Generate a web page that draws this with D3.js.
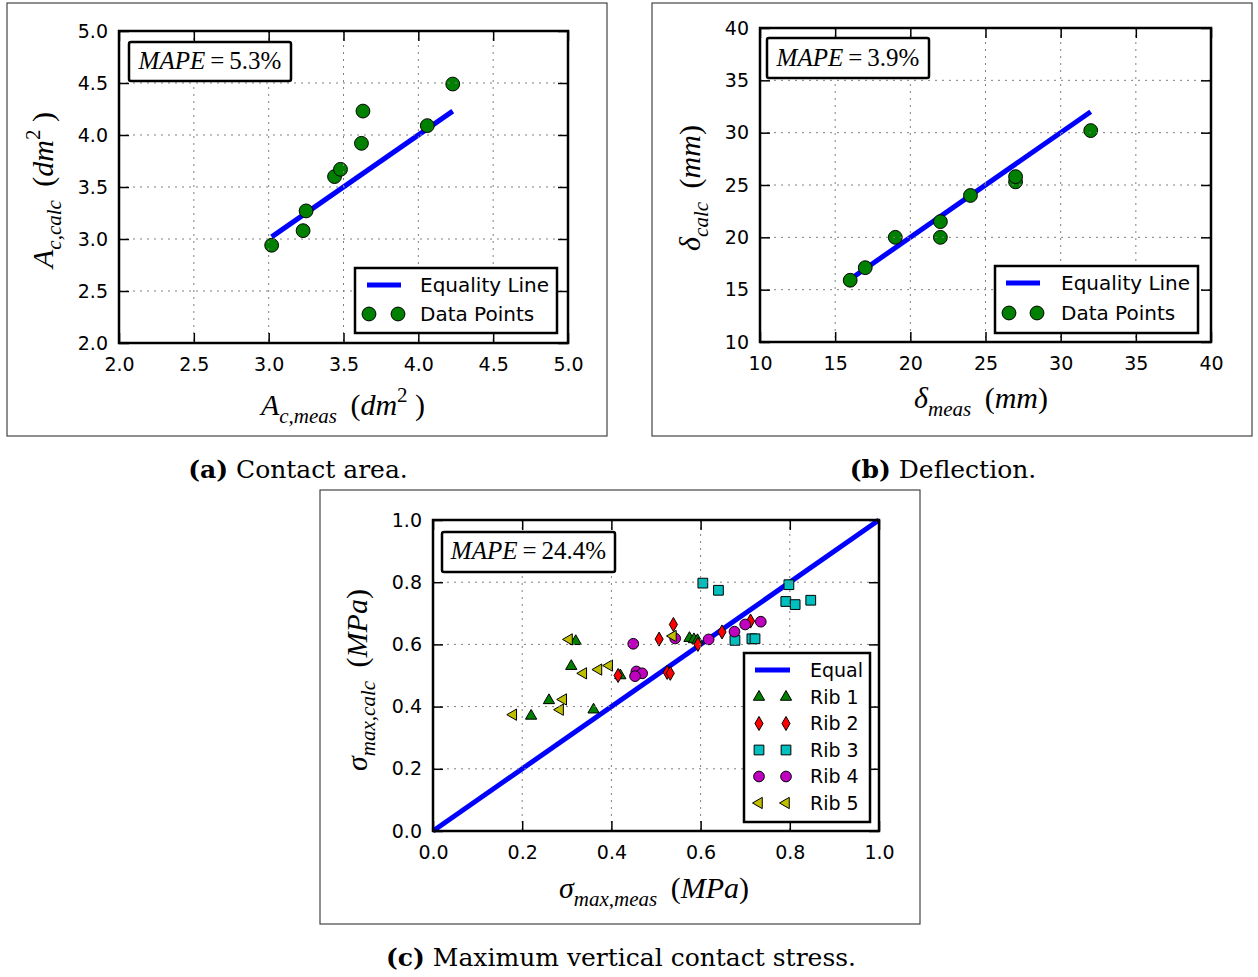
<!DOCTYPE html>
<html>
<head>
<meta charset="utf-8">
<script src="https://cdn.jsdelivr.net/npm/d3@7/dist/d3.min.js"></script>
<style>
  body { margin: 0; background: #fff; }
  svg { display: block; }
  .tick-label { font-family: "DejaVu Sans"; font-size: 19px; fill: #000; }
  .legend-label { font-family: "DejaVu Sans"; font-size: 20px; fill: #000; }
  .math { font-family: "Liberation Serif"; fill: #000; }
  .caption { font-family: "DejaVu Serif"; font-size: 25px; fill: #000; }
</style>
</head>
<body>
<script>
// (a) contact area, dm^2
var areaMeas = [3.02, 3.23, 3.25, 3.44, 3.48, 3.62, 3.63, 4.06, 4.23];
var areaCalc = [2.94, 3.08, 3.27, 3.60, 3.67, 3.92, 4.23, 4.09, 4.49];
var areaTicks = [2.0, 2.5, 3.0, 3.5, 4.0, 4.5, 5.0];

// (b) deflection, mm
var deflMeas = [16, 17, 19, 22, 22, 24, 27, 27, 32];
var deflCalc = [15.9, 17.1, 20.0, 21.5, 20.0, 24.0, 25.3, 25.8, 30.2];
var deflTicks = [10, 15, 20, 25, 30, 35, 40];

// (c) max vertical contact stress, MPa  [meas, calc]
var rib1 = [[0.32, 0.61], [0.31, 0.53], [0.26, 0.42], [0.22, 0.37], [0.36, 0.39],
            [0.42, 0.50], [0.575, 0.62], [0.585, 0.616], [0.593, 0.613]];
var rib2 = [[0.415, 0.50], [0.507, 0.617], [0.539, 0.664], [0.525, 0.51], [0.532, 0.507],
            [0.594, 0.60], [0.648, 0.64], [0.712, 0.675]];
var rib3 = [[0.605, 0.797], [0.64, 0.774], [0.798, 0.792], [0.791, 0.738], [0.812, 0.728],
            [0.847, 0.742], [0.677, 0.613], [0.715, 0.618], [0.722, 0.618]];
var rib4 = [[0.449, 0.602], [0.456, 0.513], [0.469, 0.507], [0.453, 0.498], [0.543, 0.619],
            [0.618, 0.616], [0.676, 0.641], [0.70, 0.664], [0.735, 0.673]];
var rib5 = [[0.18, 0.374], [0.285, 0.39], [0.292, 0.423], [0.305, 0.616], [0.337, 0.507],
            [0.371, 0.519], [0.395, 0.532], [0.538, 0.627]];
var stressTicks = [0.0, 0.2, 0.4, 0.6, 0.8, 1.0];
var ribNames = ['Rib 1', 'Rib 2', 'Rib 3', 'Rib 4', 'Rib 5'];

var w = 1258, h = 977;

var svg = d3.select('body').append('svg')
  .attr('width', w)
  .attr('height', h);

// writes math-like text with sub / superscripts into a <text>
function mathText(t, parts, size) {
  var shift = 0;
  parts.forEach(function(p) {
    var target = p.sub ? size * 0.28 : p.sup ? -size * 0.42 : 0;
    var ts = t.append('tspan').text(p.t)
      .attr('dy', target - shift)
      .style('font-size', (p.sub || p.sup ? size * 0.7 : size) + 'px');
    if (p.it) ts.style('font-style', 'italic');
    if (p.dx) ts.attr('dx', p.dx);
    shift = target;
  });
}

function drawPanel(o) {
  var g = svg.append('g');

  g.append('rect')
    .attr('x', o.frame[0]).attr('y', o.frame[1])
    .attr('width', o.frame[2] - o.frame[0]).attr('height', o.frame[3] - o.frame[1])
    .attr('fill', 'none').attr('stroke', '#444').attr('stroke-width', 1.2);

  var x = d3.scaleLinear().domain(o.domain).range([o.plot[0], o.plot[2]]);
  var y = d3.scaleLinear().domain(o.domain).range([o.plot[3], o.plot[1]]);

  // equality line
  g.append('line')
    .attr('x1', x(o.eq[0])).attr('y1', y(o.eq[0]))
    .attr('x2', x(o.eq[1])).attr('y2', y(o.eq[1]))
    .attr('stroke', '#0000ff').attr('stroke-width', 5);

  o.series.forEach(function(s) {
    g.append('g').selectAll('path')
      .data(s.data)
      .enter().append('path')
      .attr('d', d3.symbol().type(s.shape).size(s.size))
      .attr('transform', function(d) {
        return 'translate(' + x(d[0]) + ',' + y(d[1]) + ')' + (s.rot ? ' rotate(' + s.rot + ')' : '');
      })
      .attr('fill', s.color).attr('stroke', '#000').attr('stroke-width', 1);
  });

  // grid on top, like classic matplotlib
  var grid = g.append('g')
    .attr('stroke', '#808080').attr('stroke-width', 1).attr('stroke-dasharray', '2,5');
  o.ticks.slice(1, -1).forEach(function(t) {
    grid.append('line').attr('x1', x(t)).attr('x2', x(t)).attr('y1', o.plot[1]).attr('y2', o.plot[3]);
    grid.append('line').attr('y1', y(t)).attr('y2', y(t)).attr('x1', o.plot[0]).attr('x2', o.plot[2]);
  });

  // axes with inward ticks on all four sides
  var tl = 10;
  g.append('g').attr('transform', 'translate(0,' + o.plot[3] + ')')
    .call(d3.axisBottom(x).tickValues(o.ticks).tickFormat(o.fmt).tickSizeInner(-tl).tickSizeOuter(0).tickPadding(15));
  g.append('g').attr('transform', 'translate(' + o.plot[0] + ',0)')
    .call(d3.axisLeft(y).tickValues(o.ticks).tickFormat(o.fmt).tickSizeInner(-tl).tickSizeOuter(0).tickPadding(11));
  g.append('g').attr('transform', 'translate(0,' + o.plot[1] + ')')
    .call(d3.axisTop(x).tickValues(o.ticks).tickFormat('').tickSizeInner(-tl).tickSizeOuter(0));
  g.append('g').attr('transform', 'translate(' + o.plot[2] + ',0)')
    .call(d3.axisRight(y).tickValues(o.ticks).tickFormat('').tickSizeInner(-tl).tickSizeOuter(0));
  g.selectAll('.domain').remove();
  g.selectAll('.tick line').attr('stroke', '#000').attr('stroke-width', 1.5);
  g.selectAll('.tick text').attr('class', 'tick-label').attr('font-family', null).attr('font-size', null);

  g.append('rect')
    .attr('x', o.plot[0]).attr('y', o.plot[1])
    .attr('width', o.plot[2] - o.plot[0]).attr('height', o.plot[3] - o.plot[1])
    .attr('fill', 'none').attr('stroke', '#000').attr('stroke-width', 2.5);

  // MAPE box
  var mb = o.mape.box;
  g.append('rect')
    .attr('x', mb[0]).attr('y', mb[1]).attr('width', mb[2] - mb[0]).attr('height', mb[3] - mb[1])
    .attr('rx', 2)
    .attr('fill', '#fff').attr('stroke', '#000').attr('stroke-width', 2.5);
  var mt = g.append('text').attr('class', 'math')
    .attr('x', (mb[0] + mb[2]) / 2).attr('y', o.mape.base)
    .attr('text-anchor', 'middle');
  mathText(mt, [{t: 'MAPE', it: true}, {t: '\u2009=\u2009' + o.mape.value}], 25);

  // legend
  var lg = o.legend;
  g.append('rect')
    .attr('x', lg.box[0]).attr('y', lg.box[1]).attr('width', lg.box[2] - lg.box[0]).attr('height', lg.box[3] - lg.box[1])
    .attr('fill', '#fff').attr('stroke', '#000').attr('stroke-width', 2.5);
  g.append('line')
    .attr('x1', lg.line[0]).attr('x2', lg.line[1]).attr('y1', lg.rows[0]).attr('y2', lg.rows[0])
    .attr('stroke', '#0000ff').attr('stroke-width', 5);
  g.append('text').attr('class', 'legend-label')
    .attr('x', lg.text).attr('y', lg.rows[0]).attr('dy', '0.36em')
    .style('font-size', lg.fs + 'px').text(lg.labels[0]);
  o.series.forEach(function(s, i) {
    var ry = lg.rows[i + 1];
    lg.marks.forEach(function(mx) {
      g.append('path')
        .attr('d', d3.symbol().type(s.shape).size(s.size))
        .attr('transform', 'translate(' + mx + ',' + ry + ')' + (s.rot ? ' rotate(' + s.rot + ')' : ''))
        .attr('fill', s.color).attr('stroke', '#000').attr('stroke-width', 1);
    });
    g.append('text').attr('class', 'legend-label')
      .attr('x', lg.text).attr('y', ry).attr('dy', '0.36em')
      .style('font-size', lg.fs + 'px').text(lg.labels[i + 1]);
  });

  // axis labels
  var xl = g.append('text').attr('class', 'math')
    .attr('x', o.xlab.x).attr('y', o.xlab.y).attr('text-anchor', 'middle');
  mathText(xl, o.xlab.parts, 30);
  var yl = g.append('text').attr('class', 'math')
    .attr('transform', 'translate(' + o.ylab.x + ',' + o.ylab.y + ') rotate(-90)')
    .attr('text-anchor', 'middle');
  mathText(yl, o.ylab.parts, 30);

  // caption
  var cap = svg.append('text').attr('class', 'caption')
    .attr('x', o.cap.x).attr('y', o.cap.y).attr('text-anchor', 'middle');
  cap.append('tspan').attr('font-weight', 'bold').text(o.cap.tag);
  cap.append('tspan').text(' ' + o.cap.text);
}

function unitLabel(sym, sub, unit, sup) {
  var p = [{t: sym, it: true}, {t: sub, it: true, sub: true}, {t: ' (', dx: 6}, {t: unit, it: true}];
  if (sup) p.push({t: sup, sup: true}, {t: ' )'});
  else p.push({t: ')'});
  return p;
}

var f1 = d3.format('.1f');

drawPanel({
  frame: [7, 3, 607, 436],
  plot: [119, 31, 568, 343],
  domain: [2, 5],
  ticks: areaTicks,
  fmt: f1,
  eq: d3.extent(areaMeas),
  series: [{data: areaMeas.map(function(v, i) { return [v, areaCalc[i]]; }),
            shape: d3.symbolCircle, size: 150, color: '#008000'}],
  mape: {box: [129, 42, 291, 81], base: 69, value: '5.3%'},
  legend: {box: [355, 268, 557, 333], line: [367, 401], marks: [369, 398], text: 420,
           rows: [285, 314], labels: ['Equality Line', 'Data Points'], fs: 20},
  xlab: {x: 343, y: 415, parts: unitLabel('A', 'c,meas', 'dm', '2')},
  ylab: {x: 53, y: 190, parts: unitLabel('A', 'c,calc', 'dm', '2')},
  cap: {x: 298, y: 478, tag: '(a)', text: 'Contact area.'}
});

drawPanel({
  frame: [652, 3, 1252, 436],
  plot: [760, 28, 1211, 342],
  domain: [10, 40],
  ticks: deflTicks,
  fmt: d3.format('d'),
  eq: d3.extent(deflMeas),
  series: [{data: deflMeas.map(function(v, i) { return [v, deflCalc[i]]; }),
            shape: d3.symbolCircle, size: 150, color: '#008000'}],
  mape: {box: [767, 38, 929, 78], base: 66, value: '3.9%'},
  legend: {box: [995, 266, 1198, 333], line: [1006, 1040], marks: [1009, 1037], text: 1061,
           rows: [283, 313], labels: ['Equality Line', 'Data Points'], fs: 20},
  xlab: {x: 981, y: 408, parts: unitLabel('\u03b4', 'meas', 'mm')},
  ylab: {x: 700, y: 188, parts: unitLabel('\u03b4', 'calc', 'mm')},
  cap: {x: 943, y: 478, tag: '(b)', text: 'Deflection.'}
});

drawPanel({
  frame: [320, 490, 920, 924],
  plot: [433, 520, 879, 831],
  domain: [0, 1],
  ticks: stressTicks,
  fmt: f1,
  eq: [0, 1],
  series: [
    {data: rib1, shape: d3.symbolTriangle, size: 55, color: '#008000'},
    {data: rib2, shape: d3.symbolDiamond, size: 57, color: '#ff0000'},
    {data: rib3, shape: d3.symbolSquare, size: 95, color: '#00bfbf'},
    {data: rib4, shape: d3.symbolCircle, size: 90, color: '#bf00bf'},
    {data: rib5, shape: d3.symbolTriangle, size: 55, color: '#bfbf00', rot: -90}
  ],
  mape: {box: [442, 532, 615, 572], base: 559, value: '24.4%'},
  legend: {box: [744, 653, 870, 822], line: [755, 790], marks: [759, 786], text: 810,
           rows: [670, 697, 723.5, 750, 776.5, 803], labels: ['Equal'].concat(ribNames), fs: 19},
  xlab: {x: 654, y: 898, parts: unitLabel('\u03c3', 'max,meas', 'MPa')},
  ylab: {x: 367, y: 680, parts: unitLabel('\u03c3', 'max,calc', 'MPa')},
  cap: {x: 621, y: 966, tag: '(c)', text: 'Maximum vertical contact stress.'}
});
</script>
</body>
</html>
